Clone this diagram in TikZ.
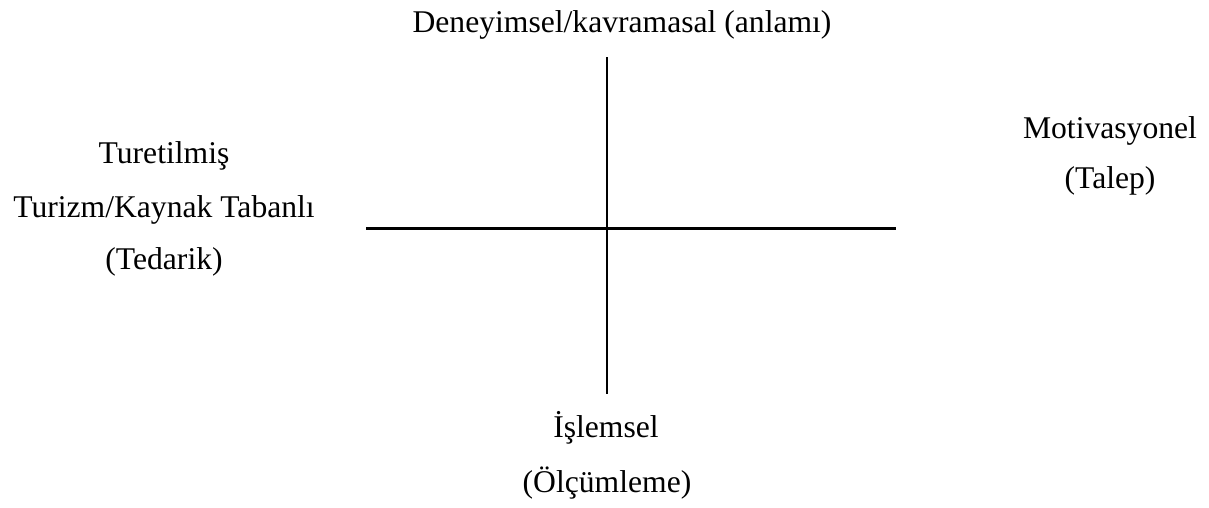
\documentclass[tikz,border=0pt]{standalone}
\usepackage{fontspec}
\setmainfont{Liberation Serif}
\begin{document}
\begin{tikzpicture}[x=0.02cm,y=-0.02cm,
  lbl/.style={anchor=base,inner sep=0pt,font=\fontsize{18}{22}\selectfont},
  axis/.style={line width=1.15pt,black}]
\useasboundingbox (0,0) rectangle (1209,507);
% axes
\coordinate (vt) at (607,57);
\coordinate (vb) at (607,394);
\coordinate (hl) at (366,228.5);
\coordinate (hr) at (896,228.5);
\draw[axis] (vt) -- (vb);
\draw[axis] (hl) -- (hr);
% labels
\node[lbl] (top) at (622,32) {Deneyimsel/kavramasal (anlamı)};
\node[lbl] (l1) at (164,163) {Turetilmiş};
\node[lbl] (l2) at (164,217) {Turizm/Kaynak Tabanlı};
\node[lbl] (l3) at (164,269) {(Tedarik)};
\node[lbl] (r1) at (1110,138) {Motivasyonel};
\node[lbl] (r2) at (1110,188) {(Talep)};
\node[lbl] (b1) at (606,437) {İşlemsel};
\node[lbl] (b2) at (607,492) {(Ölçümleme)};
\end{tikzpicture}
\end{document}
